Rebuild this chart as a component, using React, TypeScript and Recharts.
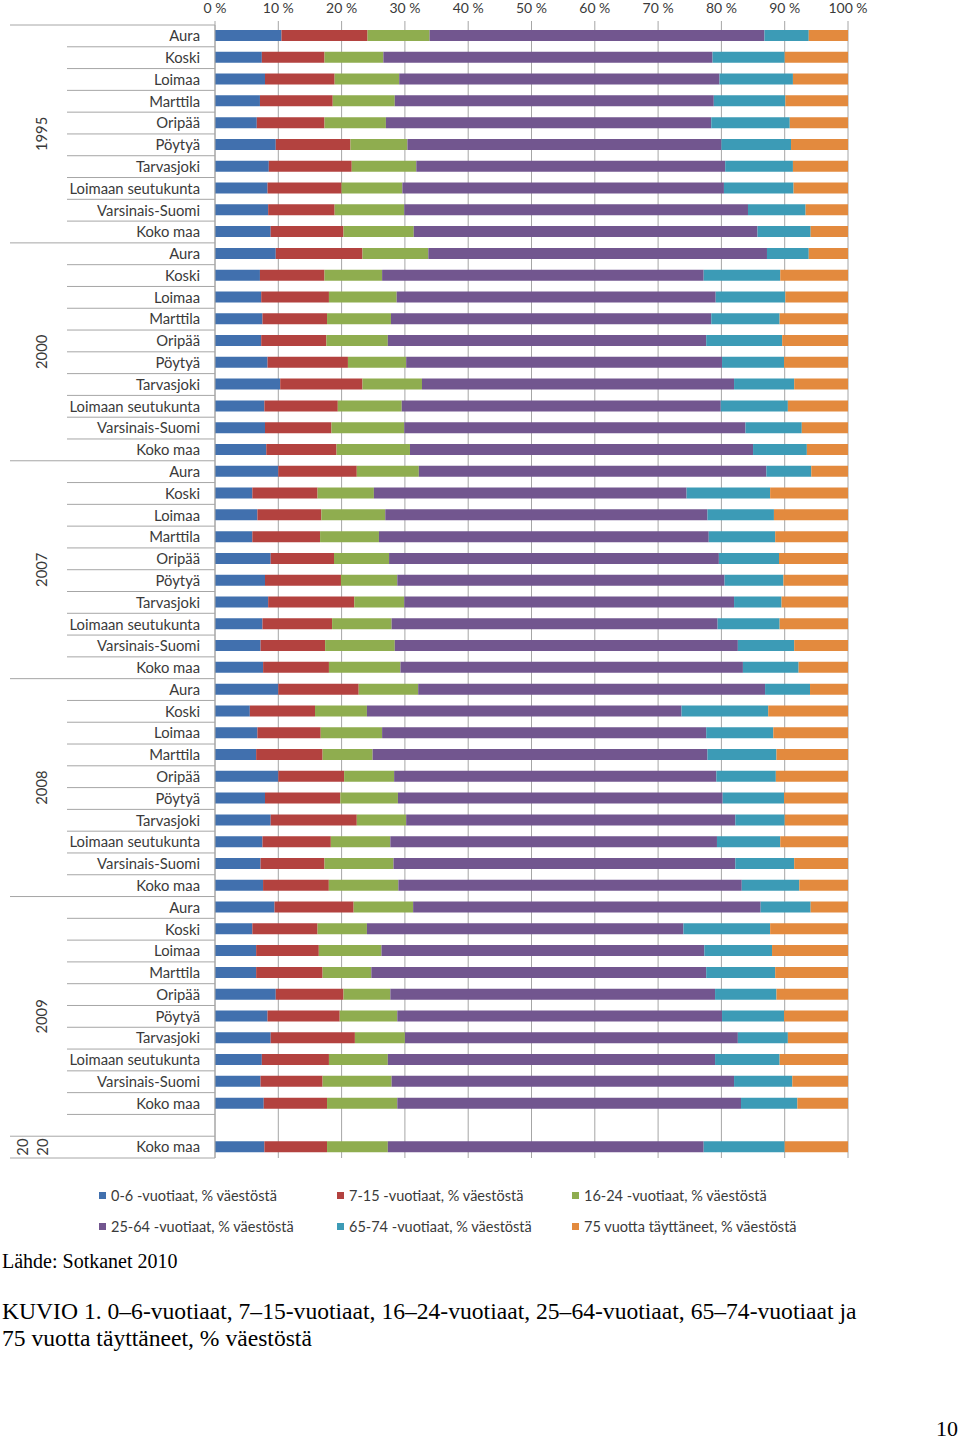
import { BarChart, Bar, XAxis, YAxis, CartesianGrid, Legend } from 'recharts';

// categories
const years = ['1995', '2000', '2007', '2008', '2009'];
const forecastYear = ['20', '20'];
const regions = [
  'Aura',
  'Koski',
  'Loimaa',
  'Marttila',
  'Oripää',
  'Pöytyä',
  'Tarvasjoki',
  'Loimaan seutukunta',
  'Varsinais-Suomi',
  'Koko maa',
];

const seriesNames = [
  '0-6 -vuotiaat, % väestöstä',
  '7-15 -vuotiaat, % väestöstä',
  '16-24 -vuotiaat, % väestöstä',
  '25-64 -vuotiaat, % väestöstä',
  '65-74 -vuotiaat, % väestöstä',
  '75 vuotta täyttäneet, % väestöstä',
];
const colors = ['#4170ae', '#b3423f', '#8fad4f', '#72568f', '#3c9bb6', '#e38a3e'];

// values in % per row: 1995, 2000, 2007, 2008, 2009 (10 regions each), then 2020 Koko maa
const age0to6 = [
  10.5, 7.4, 7.9, 7.1, 6.6, 9.6, 8.5, 8.3, 8.4, 8.8,
  9.6, 7.1, 7.3, 7.5, 7.3, 8.3, 10.3, 7.8, 7.9, 8.1,
  10.0, 5.9, 6.7, 5.9, 8.8, 7.9, 8.4, 7.5, 7.2, 7.6,
  10.0, 5.5, 6.7, 6.5, 10.0, 7.9, 8.8, 7.5, 7.2, 7.6,
  9.4, 5.9, 6.5, 6.5, 9.6, 8.3, 8.8, 7.4, 7.2, 7.7,
  7.8,
];
const age7to15 = [
  13.6, 9.9, 11.0, 11.5, 10.7, 11.8, 13.1, 11.7, 10.5, 11.5,
  13.7, 10.2, 10.7, 10.2, 10.3, 12.7, 13.0, 11.6, 10.5, 11.1,
  12.4, 10.3, 10.1, 10.7, 10.0, 12.0, 13.6, 11.0, 10.2, 10.4,
  12.7, 10.3, 10.0, 10.5, 10.4, 11.9, 13.6, 10.8, 10.1, 10.4,
  12.5, 10.3, 9.9, 10.5, 10.7, 11.4, 13.3, 10.6, 9.8, 10.0,
  9.9,
];
const age16to24 = [
  9.8, 9.3, 10.2, 9.8, 9.7, 9.0, 10.2, 9.6, 11.0, 11.1,
  10.4, 9.1, 10.7, 10.1, 9.7, 9.2, 9.4, 10.1, 11.5, 11.6,
  9.8, 8.9, 10.1, 9.3, 8.7, 8.9, 7.9, 9.4, 11.0, 11.3,
  9.4, 8.2, 9.7, 7.9, 7.9, 9.1, 7.8, 9.4, 10.9, 11.0,
  9.4, 7.8, 9.9, 7.7, 7.4, 9.1, 7.9, 9.3, 10.9, 11.1,
  9.6,
];
const age25to64 = [
  52.9, 52.0, 50.6, 50.4, 51.4, 49.6, 48.8, 50.8, 54.3, 54.3,
  53.5, 50.8, 50.4, 50.6, 50.3, 49.9, 49.3, 50.4, 53.9, 54.2,
  54.9, 49.4, 50.9, 52.1, 52.1, 51.7, 52.1, 51.5, 54.2, 54.1,
  54.8, 49.7, 51.2, 52.9, 50.9, 51.3, 52.0, 51.6, 54.0, 54.3,
  54.9, 50.0, 51.0, 52.9, 51.3, 51.3, 52.6, 51.7, 54.1, 54.3,
  49.9,
];
const age65to74 = [
  7.0, 11.4, 11.6, 11.3, 12.4, 11.0, 10.7, 11.0, 9.1, 8.4,
  6.6, 12.1, 11.0, 10.8, 12.0, 9.8, 9.5, 10.6, 8.9, 8.5,
  7.1, 13.2, 10.5, 10.5, 9.5, 9.3, 7.5, 9.8, 8.9, 8.8,
  7.1, 13.7, 10.6, 10.9, 9.4, 9.7, 7.8, 10.0, 9.3, 9.1,
  7.9, 13.7, 10.7, 10.9, 9.7, 9.8, 7.9, 10.2, 9.2, 8.9,
  12.8,
];
const age75plus = [
  6.2, 10.0, 8.7, 9.9, 9.2, 9.0, 8.7, 8.6, 6.7, 5.9,
  6.2, 10.7, 9.9, 10.8, 10.4, 10.1, 8.5, 9.5, 7.3, 6.5,
  5.8, 12.3, 11.7, 11.5, 10.9, 10.2, 10.5, 10.8, 8.5, 7.8,
  6.0, 12.6, 11.8, 11.3, 11.4, 10.1, 10.0, 10.7, 8.5, 7.7,
  5.9, 12.3, 12.0, 11.5, 11.3, 10.1, 9.5, 10.8, 8.8, 8.0,
  10.0,
];

const series = [age0to6, age7to15, age16to24, age25to64, age65to74, age75plus];
const xTicks = [0, 0.1, 0.2, 0.3, 0.4, 0.5, 0.6, 0.7, 0.8, 0.9, 1];

// layout
const CHART_W = 880;
const CHART_H = 1245;
const PLOT_TOP = 25;
const PLOT_BOTTOM = 1158;
const PLOT_LEFT = 215;
const LABEL_FONT = 'Lato, "Open Sans", sans-serif';
const SERIF = '"Liberation Serif", "Times New Roman", serif';
const GRID = '#a6a6a6';
const TEXT = '#3a3a3a';

type Row = {
  key: string;
  name: string;
  groupLabel: string[];
  first: boolean;
  last: boolean;
  groupSize: number;
  index: number;
  [s: string]: string | number | boolean | string[];
};

function buildRows(): Row[] {
  const rows: Row[] = [];
  let d = 0;
  const add = (label: string[], name: string, first: boolean, last: boolean, size: number, withData: boolean) => {
    const row: Row = {
      key: `${rows.length}|${name}`,
      name,
      groupLabel: label,
      first,
      last,
      groupSize: size,
      index: rows.length,
    };
    series.forEach((s, i) => {
      row[`s${i}`] = withData ? s[d] : 0;
    });
    if (withData) d++;
    rows.push(row);
  };
  years.forEach((y, gi) => {
    const isLastYear = gi === years.length - 1;
    const size = isLastYear ? regions.length + 1 : regions.length;
    regions.forEach((r, ri) => {
      add([y], r, ri === 0, !isLastYear && ri === regions.length - 1, size, true);
    });
    // 2009 group ends with an empty slot
    if (isLastYear) add([y], '', false, true, size, false);
  });
  add(forecastYear, 'Koko maa', true, true, 1, true);
  return rows;
}

const rows = buildRows();
const rowByKey = new Map(rows.map((r) => [r.key, r]));
const STEP = (PLOT_BOTTOM - PLOT_TOP) / rows.length;

function CategoryTick(props: any) {
  const { y, payload } = props;
  const row = rowByKey.get(payload.value);
  if (!row) return null;
  const half = STEP / 2;
  const cy = y + ((row.groupSize - 1) * STEP) / 2;
  const labelXs = row.groupLabel.length === 1 ? [42] : [23, 43];
  return (
    <g>
      {row.index === 0 && (
        <line x1={10} x2={PLOT_LEFT} y1={y - half} y2={y - half} stroke={GRID} />
      )}
      <line x1={row.last ? 10 : 67} x2={PLOT_LEFT} y1={y + half} y2={y + half} stroke={GRID} />
      <text x={200} y={y} dy="0.36em" textAnchor="end" fontSize={14.8} fontFamily={LABEL_FONT} fill={TEXT}>
        {row.name}
      </text>
      {row.first &&
        row.groupLabel.map((g, i) => (
          <text
            key={i}
            transform={`translate(${labelXs[i]}, ${cy}) rotate(-90)`}
            textAnchor="middle"
            dy="0.36em"
            fontSize={14.8}
            fontFamily={LABEL_FONT}
            fill={TEXT}
          >
            {g}
          </text>
        ))}
    </g>
  );
}

function LegendBox(props: any) {
  const items = [...(props.payload || [])].sort(
    (a: any, b: any) => seriesNames.indexOf(a.value) - seriesNames.indexOf(b.value),
  );
  return (
    <div
      style={{
        display: 'grid',
        gridTemplateColumns: '238px 235px 260px',
        rowGap: 13,
        fontFamily: LABEL_FONT,
        fontSize: 14.5,
        color: TEXT,
      }}
    >
      {items.map((it: any) => (
        <div key={it.value} style={{ display: 'flex', alignItems: 'center', height: 18, whiteSpace: 'nowrap' }}>
          <span style={{ width: 7, height: 7, background: it.color, marginRight: 5, display: 'inline-block' }} />
          <span>{it.value}</span>
        </div>
      ))}
    </div>
  );
}

export default function App() {
  return (
    <div style={{ position: 'absolute', left: 0, top: 0, width: 960, height: 1440, background: '#fff' }}>
      <BarChart
        width={CHART_W}
        height={CHART_H}
        data={rows}
        layout="vertical"
        stackOffset="expand"
        barSize={11}
        margin={{ top: 0, right: CHART_W - 848, bottom: CHART_H - PLOT_BOTTOM, left: 0 }}
      >
        <CartesianGrid horizontal={false} stroke={GRID} />
        <XAxis
          type="number"
          orientation="top"
          height={PLOT_TOP}
          domain={[0, 1]}
          ticks={xTicks}
          tickFormatter={(v: number) => `${Math.round(v * 100)} %`}
          axisLine={false}
          tickLine={{ stroke: GRID }}
          tickSize={4}
          tickMargin={8}
          tick={{ fontSize: 14, fontFamily: LABEL_FONT, fill: TEXT }}
          interval={0}
        />
        <YAxis
          type="category"
          dataKey="key"
          width={PLOT_LEFT}
          interval={0}
          axisLine={{ stroke: GRID }}
          tickLine={false}
          tick={<CategoryTick />}
        />
        {series.map((_, i) => (
          <Bar
            key={i}
            dataKey={`s${i}`}
            name={seriesNames[i]}
            stackId="a"
            fill={colors[i]}
            isAnimationActive={false}
          />
        ))}
        <Legend
          layout="horizontal"
          verticalAlign="middle"
          align="center"
          content={<LegendBox />}
          wrapperStyle={{ top: 1186, left: 99, width: 740, height: 50 }}
        />
      </BarChart>
      <div style={{ position: 'absolute', left: 2, top: 1250, fontFamily: SERIF, fontSize: 20, color: '#000' }}>
        Lähde: Sotkanet 2010
      </div>
      <div
        style={{
          position: 'absolute',
          left: 2,
          top: 1298,
          width: 950,
          fontFamily: SERIF,
          fontSize: 23.6,
          lineHeight: '27px',
          color: '#000',
          whiteSpace: 'nowrap',
        }}
      >
        KUVIO 1. 0–6-vuotiaat, 7–15-vuotiaat, 16–24-vuotiaat, 25–64-vuotiaat, 65–74-vuotiaat ja
        <br />
        75 vuotta täyttäneet, % väestöstä
      </div>
      <div style={{ position: 'absolute', right: 2, top: 1416, fontFamily: SERIF, fontSize: 22, color: '#000' }}>
        10
      </div>
    </div>
  );
}
